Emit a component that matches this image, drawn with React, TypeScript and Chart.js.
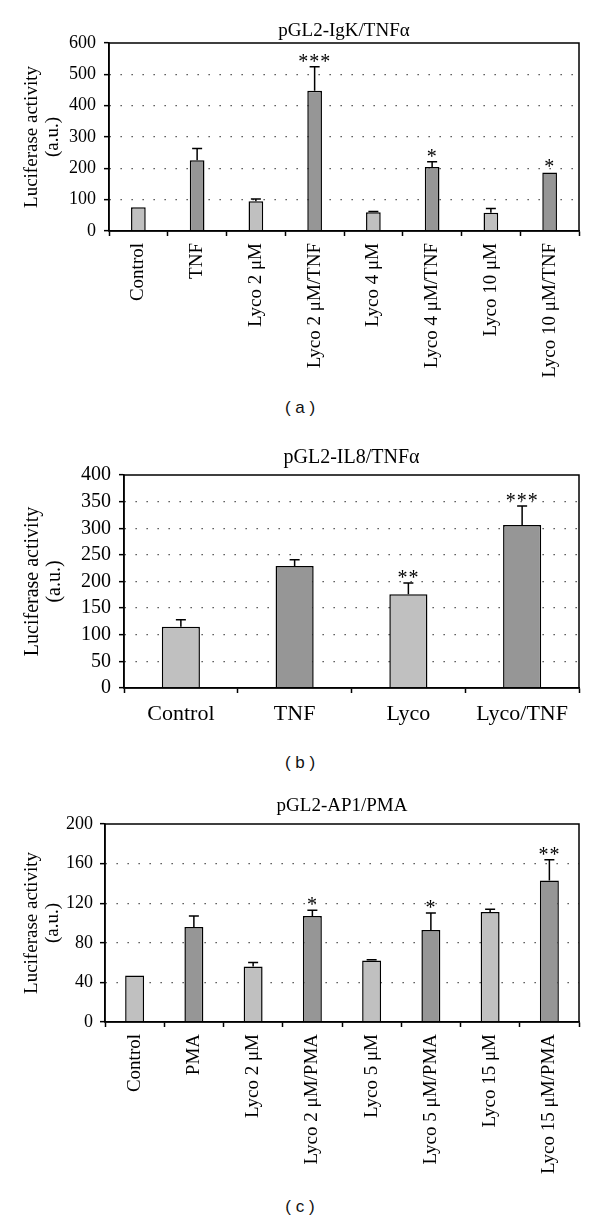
import React, { useEffect, useRef } from "react";
import { Chart, registerables } from "chart.js";

Chart.register(...registerables);

// ---------- Data ----------
const labelsA = ["Control", "TNF", "Lyco 2 μM", "Lyco 2 μM/TNF", "Lyco 4 μM", "Lyco 4 μM/TNF", "Lyco 10 μM", "Lyco 10 μM/TNF"];
const valuesA = [76, 226, 95, 448, 60, 204, 58, 187];
const errorsA = [0, 37, 7, 76, 2, 17, 14, 0];
const starsA = ["", "", "", "***", "", "*", "", "*"];
const yTicksA = { max: 600, step: 100 };

const labelsB = ["Control", "TNF", "Lyco", "Lyco/TNF"];
const valuesB = [115, 229, 176, 306];
const errorsB = [13, 12, 21, 36];
const starsB = ["", "", "**", "***"];
const yTicksB = { max: 400, step: 50 };

const labelsC = ["Control", "PMA", "Lyco 2 μM", "Lyco 2 μM/PMA", "Lyco 5 μM", "Lyco 5 μM/PMA", "Lyco 15 μM", "Lyco 15 μM/PMA"];
const valuesC = [47, 96, 56, 107, 62, 93, 111, 143];
const errorsC = [0, 11, 4, 6, 1, 17, 3, 21];
const starsC = ["", "", "", "*", "", "*", "", "**"];
const yTicksC = { max: 200, step: 40 };

const yTitle = ["Luciferase activity", "(a.u.)"];

// ---------- Styles ----------
const SERIF = '"Liberation Serif", "Times New Roman", serif';
const LIGHT = "#c0c0c0";
const DARK = "#969696";
const alternate = (n: number) => Array.from({ length: n }, (_, i) => (i % 2 === 0 ? LIGHT : DARK));

type Spec = {
  title: string;
  labels: string[];
  values: number[];
  errors: number[];
  stars: string[];
  yMax: number;
  yStep: number;
  top: number;
  height: number;
  area: { left: number; right: number; top: number; bottom: number };
  titleCenter: number;
  titleSize: number;
  tickSize: number;
  xSize: number;
  axisTitleSize: number;
  axisTitlePad: number;
  yTickPad: number;
  xTickPad: number;
  rotate: boolean;
  barPct: number;
  cap: number;
};

function makeOverlay(values: number[], errors: number[], stars: string[], capHalf: number) {
  return {
    id: "overlay",
    afterDatasetsDraw(chart: any) {
      const ctx = chart.ctx as CanvasRenderingContext2D;
      const area = chart.chartArea;
      const ys = chart.scales.y;
      const meta = chart.getDatasetMeta(0);
      ctx.save();
      ctx.strokeStyle = "#000";
      ctx.lineWidth = 1.5;
      meta.data.forEach((bar: any, i: number) => {
        const e = errors[i];
        const topPx = ys.getPixelForValue(values[i] + e);
        if (e > 0) {
          ctx.beginPath();
          ctx.moveTo(bar.x, bar.y);
          ctx.lineTo(bar.x, topPx);
          ctx.moveTo(bar.x - capHalf, topPx);
          ctx.lineTo(bar.x + capHalf, topPx);
          ctx.stroke();
        }
        if (stars[i]) {
          ctx.fillStyle = "#000";
          ctx.font = `20px ${SERIF}`;
          ctx.textAlign = "center";
          ctx.textBaseline = "alphabetic";
          (ctx as any).letterSpacing = "1px";
          ctx.fillText(stars[i], bar.x, topPx + 1);
        }
      });
      (ctx as any).letterSpacing = "0px";
      ctx.strokeRect(area.left, area.top, area.right - area.left, area.bottom - area.top);
      ctx.restore();
    },
  };
}

function Panel({ spec }: { spec: Spec }) {
  const ref = useRef<HTMLCanvasElement | null>(null);
  useEffect(() => {
    if (!ref.current) return;
    const s = spec;
    const titleLH = s.titleSize * 1.2;
    const chart = new Chart(ref.current, {
      type: "bar",
      data: {
        labels: s.labels,
        datasets: [
          {
            data: s.values,
            backgroundColor: alternate(s.values.length),
            borderColor: "#000",
            borderWidth: 1.5,
            borderSkipped: "bottom",
            barPercentage: s.barPct,
            categoryPercentage: 1,
          },
        ],
      },
      options: {
        responsive: false,
        animation: false,
        events: [],
        layout: { padding: { left: 0, right: 600 - s.area.right, top: 0, bottom: 0 } },
        plugins: {
          legend: { display: false },
          tooltip: { enabled: false },
          title: {
            display: true,
            text: s.title,
            color: "#000",
            fullSize: false,
            font: { family: SERIF, size: s.titleSize, weight: "normal", lineHeight: 1.2 },
            padding: { top: s.titleCenter - titleLH / 2, bottom: s.area.top - s.titleCenter - titleLH / 2 },
          },
        },
        scales: {
          x: {
            afterFit: (sc: any) => {
              sc.height = s.height - s.area.bottom;
            },
            ticks: {
              autoSkip: false,
              maxRotation: s.rotate ? 90 : 0,
              minRotation: s.rotate ? 90 : 0,
              color: "#000",
              padding: s.xTickPad,
              font: { family: SERIF, size: s.xSize },
            },
            grid: {
              display: true,
              drawOnChartArea: false,
              drawTicks: true,
              tickLength: 5,
              tickColor: "#000",
              tickWidth: 1.5,
              offset: true,
            },
            border: { display: true, color: "#000", width: 1.5 },
          },
          y: {
            min: 0,
            max: s.yMax,
            afterFit: (sc: any) => {
              sc.width = s.area.left;
            },
            ticks: {
              stepSize: s.yStep,
              autoSkip: false,
              color: "#000",
              padding: s.yTickPad,
              font: { family: SERIF, size: s.tickSize },
            },
            title: {
              display: true,
              text: yTitle,
              color: "#000",
              font: { family: SERIF, size: s.axisTitleSize, lineHeight: 1.1 },
              padding: { top: s.axisTitlePad, bottom: 0 },
            },
            grid: {
              display: true,
              drawOnChartArea: true,
              drawTicks: true,
              tickLength: 5,
              lineWidth: 1.3,
              color: (ctx: any) =>
                ctx.tick && (ctx.tick.value === 0 || ctx.tick.value === s.yMax) ? "rgba(0,0,0,0)" : "#3a3a3a",
              tickColor: "#000",
              tickWidth: 1.5,
              tickBorderDash: [],
            } as any,
            border: { display: true, color: "#000", width: 1.5, dash: [1.3, 9.7] },
          },
        },
      },
      plugins: [makeOverlay(s.values, s.errors, s.stars, s.cap / 2)],
    } as any);
    return () => chart.destroy();
  }, [spec]);
  return (
    <canvas
      ref={ref}
      width={600}
      height={spec.height}
      style={{ position: "absolute", left: 0, top: spec.top, width: 600, height: spec.height, display: "block" }}
    />
  );
}

const specA: Spec = {
  title: "pGL2-IgK/TNFα",
  labels: labelsA,
  values: valuesA,
  errors: errorsA,
  stars: starsA,
  yMax: yTicksA.max,
  yStep: yTicksA.step,
  top: 0,
  height: 395,
  area: { left: 109, right: 579, top: 43, bottom: 231 },
  titleCenter: 31,
  titleSize: 19,
  tickSize: 18,
  xSize: 19,
  axisTitleSize: 19,
  axisTitlePad: 22,
  yTickPad: 8,
  xTickPad: 7,
  rotate: true,
  barPct: 0.25,
  cap: 10,
};

const specB: Spec = {
  title: "pGL2-IL8/TNFα",
  labels: labelsB,
  values: valuesB,
  errors: errorsB,
  stars: starsB,
  yMax: yTicksB.max,
  yStep: yTicksB.step,
  top: 420,
  height: 320,
  area: { left: 124, right: 579, top: 55, bottom: 268 },
  titleCenter: 38,
  titleSize: 20,
  tickSize: 20,
  xSize: 22,
  axisTitleSize: 20,
  axisTitlePad: 22,
  yTickPad: 8,
  xTickPad: 8,
  rotate: false,
  barPct: 0.335,
  cap: 10,
};

const specC: Spec = {
  title: "pGL2-AP1/PMA",
  labels: labelsC,
  values: valuesC,
  errors: errorsC,
  stars: starsC,
  yMax: yTicksC.max,
  yStep: yTicksC.step,
  top: 780,
  height: 410,
  area: { left: 105, right: 579, top: 44, bottom: 242 },
  titleCenter: 26,
  titleSize: 19,
  tickSize: 18,
  xSize: 19,
  axisTitleSize: 19,
  axisTitlePad: 22,
  yTickPad: 7,
  xTickPad: 7,
  rotate: true,
  barPct: 0.32,
  cap: 10,
};

const captionStyle = (y: number): React.CSSProperties => ({
  position: "absolute",
  left: 0,
  width: 600,
  top: y - 12,
  height: 24,
  lineHeight: "24px",
  textAlign: "center",
  fontFamily: '"Liberation Sans", Arial, sans-serif',
  fontSize: 17,
  color: "#111",
  whiteSpace: "pre",
});

export default function App() {
  return (
    <div style={{ position: "relative", width: 600, height: 1223, background: "#fff", overflow: "hidden" }}>
      <style>{"body{margin:0;background:#fff}"}</style>
      <Panel spec={specA} />
      <div style={captionStyle(408)}>( a )</div>
      <Panel spec={specB} />
      <div style={captionStyle(763)}>( b )</div>
      <Panel spec={specC} />
      <div style={captionStyle(1207)}>( c )</div>
    </div>
  );
}
